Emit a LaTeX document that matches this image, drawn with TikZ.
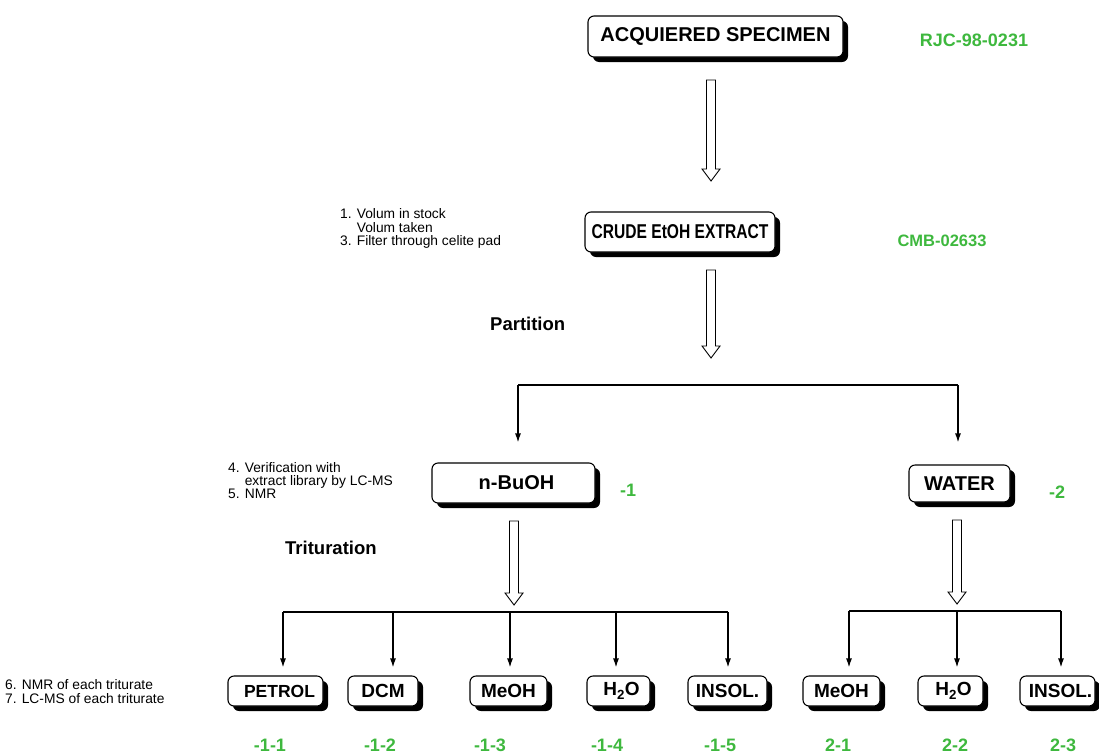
\documentclass[tikz,border=0pt]{standalone}
\usepackage{fontspec}
\usepackage{graphicx}
\setmainfont{Liberation Sans}
\usetikzlibrary{positioning, calc, shadows, arrows.meta}

\definecolor{codegreen}{RGB}{62,184,62}

% open block arrow from #1 (top) to #2 (tip)
\newcommand{\hollowarrow}[2]{%
  \draw[fat] ($(#1)+(-4.5,0)$) -- ($(#2)+(-4.5,-12)$) -- ($(#2)+(-9,-12)$) -- (#2)
    -- ($(#2)+(9,-12)$) -- ($(#2)+(4.5,-12)$) -- ($(#1)+(4.5,0)$) -- cycle;}

\begin{document}
\begin{tikzpicture}[x=1pt, y=-1pt,
    box/.style={draw, fill=white, rounded corners=6pt, line width=1.1pt, inner sep=0pt,
      drop shadow={shadow xshift=5pt, shadow yshift=-5pt, opacity=1, fill=black},
      font=\fontsize{20}{24}\selectfont\bfseries},
    small/.style={box, minimum height=30pt, font=\fontsize{19}{22}\selectfont\bfseries},
    note/.style={anchor=west, align=left, inner sep=0pt, font=\fontsize{13.8}{13.2}\selectfont},
    code/.style={text=codegreen, inner sep=0pt, font=\fontsize{18}{20}\selectfont\bfseries},
    stage/.style={anchor=west, inner sep=0pt, font=\fontsize{18.5}{20}\selectfont\bfseries},
    tip/.style={line width=1.3pt, -{Latex[length=9pt, width=6pt]}},
    bar/.style={line width=1.3pt},
    fat/.style={draw, fill=white, line width=0.9pt}]

    \useasboundingbox (0,0) rectangle (1099,755);

    % the main boxes
    \node[box, minimum width=255pt, minimum height=41pt] (spec) at (715.5,36.5) {ACQUIERED SPECIMEN};
    \node[box, minimum width=190pt, minimum height=40pt] (crude) at (680,232) {\scalebox{0.78}[1]{CRUDE EtOH EXTRACT}};
    \node[box, minimum width=163pt, minimum height=40pt] (buoh) at (513.5,483) {\hspace{6pt}n-BuOH};
    \node[box, minimum width=101pt, minimum height=37pt] (water) at (959.5,483.5) {WATER};

    % codes
    \node[code] (rjc) at (974,40) {RJC-98-0231};
    \node[code, font=\fontsize{16.5}{20}\selectfont\bfseries] (cmb) at (942,241) {CMB-02633};
    \node[code] (c1) at (628,490) {-1};
    \node[code] (c2) at (1057,492) {-2};

    % notes
    \node[note] (n1) at (340,228.5) {1. Volum in stock\\\phantom{1. }Volum taken\\3. Filter through celite pad};
    \node[note] (n2) at (228,480.5) {4. Verification with\\\phantom{4. }extract library by LC-MS\\5. NMR};
    \node[note] (n3) at (5,691.5) {6. NMR of each triturate\\7. LC-MS of each triturate};

    \node[stage] (part) at (490,324) {Partition};
    \node[stage] (trit) at (285,548) {Trituration};

    % hollow arrows
    \coordinate (f1a) at (711,80);  \coordinate (f1b) at (711,181);
    \coordinate (f2a) at (711,270); \coordinate (f2b) at (711,358);
    \coordinate (f3a) at (514,521); \coordinate (f3b) at (514,605);
    \coordinate (f4a) at (957,520); \coordinate (f4b) at (957,604);
    \hollowarrow{f1a}{f1b}
    \hollowarrow{f2a}{f2b}
    \hollowarrow{f3a}{f3b}
    \hollowarrow{f4a}{f4b}

    % partition
    \coordinate (pl) at (518,385);
    \coordinate (pr) at (958,385);
    \draw[bar] (pl) -- (pr);
    \draw[tip, shorten >=20pt] (pl) -- (pl |- buoh.north);
    \draw[tip, shorten >=22pt] (pr) -- (pr |- water.north);

    % fractions
    \node[small, minimum width=95pt, font=\fontsize{17.5}{22}\selectfont\bfseries] (petrol) at (275.5,691) {\hspace{8pt}PETROL};
    \node[small, minimum width=70pt] (dcm) at (383,691) {DCM};
    \node[small, minimum width=77pt] (meoh1) at (508.5,691) {MeOH};
    \node[small, minimum width=63pt] (wat1) at (618.5,691) {\hspace{6pt}H\textsubscript{2}O};
    \node[small, minimum width=79pt] (insol1) at (727.5,691) {INSOL.};
    \node[small, minimum width=77pt] (meoh2) at (841.5,691) {MeOH};
    \node[small, minimum width=65pt] (wat2) at (950.5,691) {\hspace{6pt}H\textsubscript{2}O};
    \node[small, minimum width=75pt] (insol2) at (1057.5,691) {\hspace{6pt}INSOL.};

    \foreach \x/\n in {283/petrol, 393/dcm, 510/meoh1, 616/wat1, 728/insol1}
      \coordinate (t\n) at (\x,612);
    \foreach \x/\n in {849/meoh2, 957/wat2, 1061/insol2}
      \coordinate (t\n) at (\x,611);
    \draw[bar] (tpetrol) -- (tinsol1);
    \draw[bar] (tmeoh2) -- (tinsol2);
    \foreach \n in {petrol, dcm, meoh1, wat1, insol1, meoh2, wat2, insol2}
      \draw[tip, shorten >=8pt] (t\n) -- (t\n |- \n.north);

    % fraction codes
    \foreach \x/\t in {270/-1-1, 380/-1-2, 490/-1-3, 607/-1-4, 720/-1-5, 838/2-1, 955/2-2, 1063/2-3}
      \node[code] (f\t) at (\x,745) {\t};
\end{tikzpicture}
\end{document}
